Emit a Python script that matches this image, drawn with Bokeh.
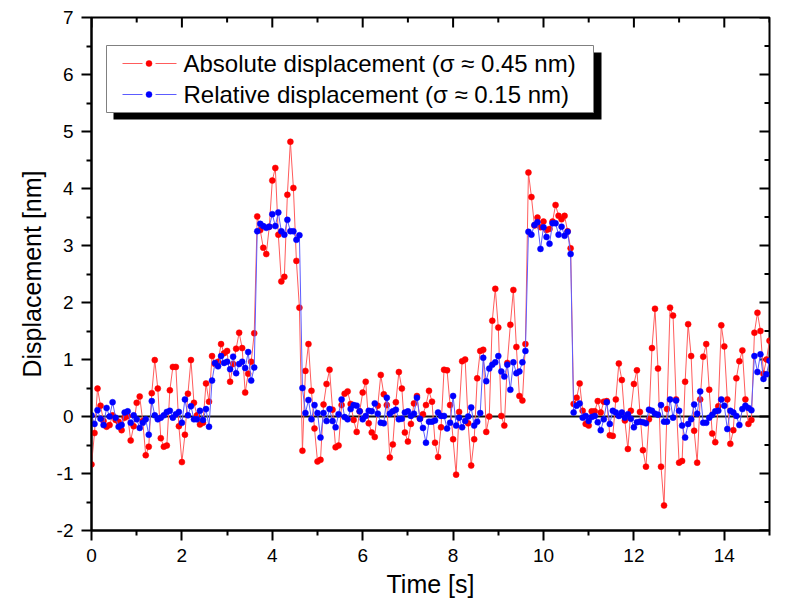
import numpy as np
from bokeh.plotting import figure
from bokeh.models import Range1d, FixedTicker, Span, ColumnDataSource
from bokeh.core.properties import value
from bokeh.embed import file_html
from bokeh.resources import INLINE

# ---------------- data ----------------
absolute_nm = [
    -0.84, -0.29, 0.49, 0.19, -0.08, -0.18, -0.15, 0.02, -0.06, -0.09,
    -0.24, -0.02, 0.01, -0.42, -0.17, 0.24, 0.35, -0.08, -0.68, -0.53,
    0.41, 0.99, 0.49, -0.38, -0.53, -0.51, 0.46, 0.87, 0.87, -0.17,
    -0.80, -0.32, 0.40, 0.99, 0.24, 0.02, -0.14, -0.11, 0.58, 0.26,
    1.06, 0.92, 0.96, 1.27, 1.11, 1.15, 0.61, 0.92, 1.19, 1.47,
    1.20, 0.42, 0.75, 0.96, 1.46, 3.51, 3.27, 2.96, 2.85, 3.33,
    4.14, 4.36, 3.19, 2.37, 2.45, 3.89, 4.82, 4.01, 2.73, 1.91,
    -0.60, 0.80, 1.27, 0.45, -0.21, -0.79, -0.76, 0.21, 0.57, 0.82,
    0.12, -0.54, -0.51, 0.20, 0.40, 0.44, 0.22, -0.06, -0.27, 0.09,
    0.42, 0.61, -0.12, -0.28, -0.36, 0.19, 0.73, 0.39, 0.20, -0.72,
    -0.49, 0.25, 0.78, 0.49, -0.28, -0.44, -0.13, 0.23, 0.36, -0.04,
    0.04, 0.20, 0.45, 0.26, -0.46, -0.71, -0.19, 0.82, 0.81, 0.20,
    -0.40, -1.02, 0.08, 0.97, 1.00, -0.12, -0.86, -0.40, 0.67, 1.15,
    1.17, -0.27, 0.00, 1.68, 2.24, 1.56, 0.01, -0.16, 0.94, 1.61,
    2.22, 1.22, 0.36, 0.28, 1.27, 4.28, 3.85, 3.35, 3.49, 3.32,
    3.42, 3.27, 3.29, 3.42, 3.71, 3.52, 3.46, 3.52, 3.25, 2.95,
    0.22, 0.33, 0.58, 0.10, -0.13, -0.16, 0.09, 0.09, 0.27, 0.07,
    0.26, 0.27, -0.33, -0.34, 0.30, 0.93, 0.64, -0.07, -0.57, 0.10,
    0.57, 0.81, 0.08, -0.59, -0.88, -0.05, 1.20, 1.89, 0.84, -0.88,
    -1.56, 0.13, 1.91, 1.77, 0.30, -0.81, -0.78, 0.61, 1.62, 1.06,
    -0.25, -0.81, 0.30, 1.05, 1.27, 0.47, -0.30, -0.45, 0.18, 1.60,
    1.23, 0.30, -0.48, -0.24, 0.67, 0.97, 1.16, 0.30, -0.13, -0.06,
    1.47, 1.82, 1.50, 0.75, 1.00, 1.33,
]
relative_nm = [
    0.02, -0.13, 0.11, -0.04, -0.15, 0.15, 0.00, 0.25, -0.02, -0.18,
    -0.15, 0.07, 0.09, -0.11, 0.02, -0.05, -0.20, -0.11, -0.05, -0.32,
    0.27, 0.02, -0.05, -0.02, 0.02, 0.08, 0.10, -0.02, 0.04, 0.08,
    -0.11, 0.30, 0.02, 0.18, -0.05, -0.05, 0.10, -0.06, 0.13, -0.18,
    0.63, 0.94, 0.88, 1.06, 0.94, 0.96, 0.83, 1.05, 0.76, 0.92,
    0.96, 0.85, 1.13, 0.63, 0.86, 3.25, 3.38, 3.34, 3.31, 3.33,
    3.55, 3.34, 3.58, 3.25, 3.19, 3.45, 3.25, 3.25, 3.10, 3.18,
    0.50, 0.06, 0.29, -0.05, 0.20, 0.06, -0.37, 0.06, -0.08, 0.13,
    -0.08, -0.19, 0.04, 0.30, -0.01, -0.05, 0.13, 0.20, 0.19, 0.09,
    -0.05, 0.01, 0.10, 0.09, 0.23, 0.05, -0.11, -0.12, 0.33, 0.05,
    0.09, 0.12, -0.05, -0.04, 0.07, 0.09, 0.01, 0.05, 0.33, -0.04,
    -0.20, -0.46, -0.09, -0.09, -0.07, 0.07, 0.01, 0.01, -0.21, -0.11,
    0.36, -0.16, -0.02, -0.19, -0.08, 0.00, 0.16, -0.16, -0.09, 0.06,
    1.03, 0.62, 0.84, 0.91, 0.95, 1.06, 0.79, 0.70, 0.91, 0.47,
    0.95, 0.76, 0.79, 0.95, 1.15, 3.24, 3.19, 3.36, 3.41, 2.94,
    3.32, 3.15, 3.03, 3.39, 3.39, 3.19, 3.33, 3.17, 3.24, 2.85,
    0.07, 0.19, 0.23, -0.02, 0.01, -0.08, -0.01, 0.01, -0.10, -0.24,
    -0.05, 0.25, -0.13, 0.10, 0.07, 0.01, 0.07, -0.02, 0.04, -0.04,
    -0.19, -0.10, -0.09, -0.10, -0.12, 0.12, 0.10, 0.05, 0.03, 0.20,
    -0.09, -0.09, 0.30, -0.02, 0.28, 0.10, -0.16, -0.37, -0.13, -0.05,
    0.21, 0.05, 0.44, -0.11, -0.11, -0.02, 0.03, 0.09, 0.10, 0.30,
    0.19, -0.22, 0.10, 0.07, 0.01, -0.15, 0.13, 0.19, 0.15, 0.11,
    1.06, 0.78, 1.09, 0.66, 0.74, 0.98,
]
sample_rate_hz = 15
time_s = np.arange(len(absolute_nm)) / sample_rate_hz

x_major = [0, 2, 4, 6, 8, 10, 12, 14]
x_minor = [1, 3, 5, 7, 9, 11, 13, 15]
y_major = [-2, -1, 0, 1, 2, 3, 4, 5, 6, 7]
y_minor = [-1.5, -0.5, 0.5, 1.5, 2.5, 3.5, 4.5, 5.5, 6.5]
y_tick_labels = {-2: "-2", -1: "-1"}
legend_labels = ["Absolute displacement (\u03c3 \u2248 0.45 nm)",
                 "Relative displacement (\u03c3 \u2248 0.15 nm)"]

# ---------------- styling ----------------
FONT = "Liberation Sans"
RED_LINE, RED_DOT = "#ff5c5c", "#ff0000"
BLUE_LINE, BLUE_DOT = "#5c5cff", "#0000ff"
W, H = 772, 602
ML, MR, MT, MB = 91, 3, 17, 72
FW, FH = W - ML - MR, H - MT - MB
X0, X1, Y0, Y1 = 0, 15, -2, 7
MAJOR_LEN, MINOR_LEN = 10, 5

p = figure(width=W, height=H, x_range=Range1d(X0, X1), y_range=Range1d(Y0, Y1),
           output_backend="svg", toolbar_location=None,
           min_border_left=ML, min_border_right=MR, min_border_top=MT, min_border_bottom=MB,
           x_axis_label="Time [s]", y_axis_label="Displacement [nm]")
p.xgrid.visible = False
p.ygrid.visible = False
p.outline_line_color = "black"
p.outline_line_width = 2
p.background_fill_color = "white"
p.border_fill_color = "white"

for ax in (p.xaxis[0], p.yaxis[0]):
    ax.axis_line_width = 2
    ax.axis_line_color = "black"
    ax.major_tick_line_width = 2
    ax.minor_tick_line_width = 2
    ax.major_tick_line_color = "black"
    ax.minor_tick_line_color = "black"
    ax.major_tick_out = MAJOR_LEN
    ax.major_tick_in = 0
    ax.minor_tick_out = MINOR_LEN
    ax.minor_tick_in = 0
    ax.major_label_text_font = FONT
    ax.major_label_text_font_size = "19px"
    ax.major_label_text_color = "black"
    ax.axis_label_text_font = FONT
    ax.axis_label_text_font_size = "25px"
    ax.axis_label_text_font_style = "normal"
    ax.axis_label_text_color = "black"

p.xaxis[0].ticker = FixedTicker(ticks=x_major, minor_ticks=x_minor)
p.yaxis[0].ticker = FixedTicker(ticks=y_major, minor_ticks=y_minor)
p.yaxis[0].major_label_overrides = y_tick_labels
p.xaxis[0].major_label_standoff = 8
p.xaxis[0].axis_label_standoff = 5
p.yaxis[0].major_label_standoff = 8
p.yaxis[0].axis_label_standoff = 8

# inward ticks on the top and right frame edges (mirror of the main ticks)
dy_major = MAJOR_LEN * (Y1 - Y0) / FH
dy_minor = MINOR_LEN * (Y1 - Y0) / FH
dx_major = MAJOR_LEN * (X1 - X0) / FW
dx_minor = MINOR_LEN * (X1 - X0) / FW
top_x = x_major + x_minor
top_len = [dy_major] * len(x_major) + [dy_minor] * len(x_minor)
p.segment(x0=top_x, x1=top_x, y0=[Y1] * len(top_x), y1=[Y1 - d for d in top_len],
          line_color="black", line_width=2)
right_y = y_major + y_minor
right_len = [dx_major] * len(y_major) + [dx_minor] * len(y_minor)
p.segment(x0=[X1] * len(right_y), x1=[X1 - d for d in right_len], y0=right_y, y1=right_y,
          line_color="black", line_width=2)

p.add_layout(Span(location=0, dimension="width", line_color="#111111",
                  line_width=2, level="underlay"))

src = ColumnDataSource(dict(t=time_s, a=absolute_nm, r=relative_nm))
p.line("t", "a", source=src, line_color=RED_LINE, line_width=1)
p.scatter("t", "a", source=src, size=6, fill_color=RED_DOT, line_color=RED_DOT, line_width=0.5)
p.line("t", "r", source=src, line_color=BLUE_LINE, line_width=1)
p.scatter("t", "r", source=src, size=6, fill_color=BLUE_DOT, line_color=BLUE_DOT, line_width=0.5)


# ---------------- hand-drawn legend with drop shadow ----------------
def fx(px):
    return X0 + px * (X1 - X0) / FW


def fy(py):
    return Y1 - py * (Y1 - Y0) / FH


p.quad(left=[fx(22)], right=[fx(510)], top=[fy(35)], bottom=[fy(102)],
       fill_color="black", line_color=None)
p.quad(left=[fx(15)], right=[fx(502)], top=[fy(28)], bottom=[fy(95)],
       fill_color="white", line_color="#808080", line_width=1)
rows = [fy(46), fy(77)]
p.segment(x0=[fx(31)] * 2 + [fx(64)] * 2, x1=[fx(51)] * 2 + [fx(85)] * 2,
          y0=rows + rows, y1=rows + rows,
          line_color=[RED_LINE, BLUE_LINE, RED_LINE, BLUE_LINE], line_width=1)
p.scatter(x=[fx(57.5)] * 2, y=rows, size=6, fill_color=[RED_DOT, BLUE_DOT],
          line_color=[RED_DOT, BLUE_DOT], line_width=0.5)
p.text(x=[fx(92)] * 2, y=rows, text=legend_labels, text_baseline="middle",
       text_align="left", text_font=value(FONT), text_font_size="24px", text_color="black")

open("out.html", "w").write(file_html(p, INLINE))
